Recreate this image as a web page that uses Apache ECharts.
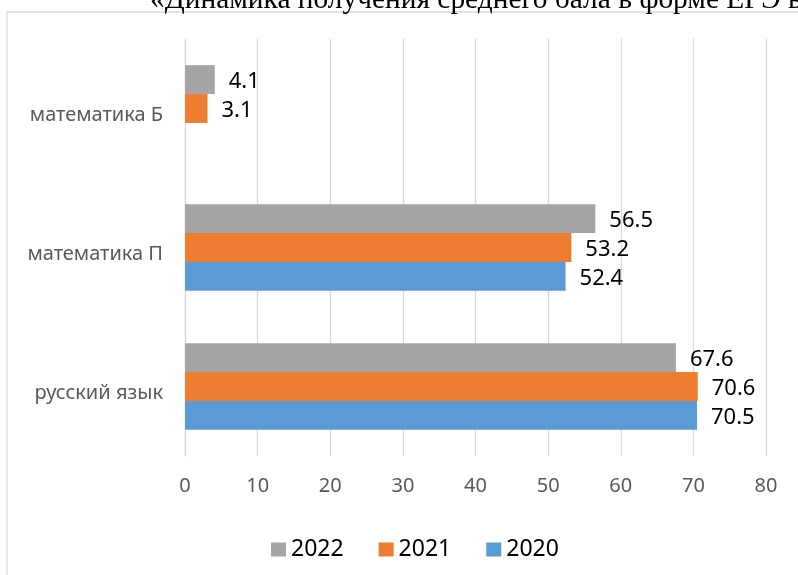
<!DOCTYPE html>
<html>
<head>
<meta charset="utf-8">
<script src="https://cdn.jsdelivr.net/npm/echarts@6/dist/echarts.min.js"></script>
<style>
html,body{margin:0;padding:0;background:#fff;}
#chart{width:798px;height:575px;}
</style>
</head>
<body>
<div id="chart"></div>
<script>
const categories = ['русский язык', 'математика П', 'математика Б'];
const years = ['2022', '2021', '2020'];
const values2020 = [70.5, 52.4, null];
const values2021 = [70.6, 53.2, 3.1];
const values2022 = [67.6, 56.5, 4.1];
const xTicks = { min: 0, max: 80, interval: 10 };
const titleText = '«Динамика получения среднего бала в форме ЕГЭ в';

const colors = { '2020': '#5B9BD5', '2021': '#ED7D31', '2022': '#A5A5A5' };
const seriesValues = { '2020': values2020, '2021': values2021, '2022': values2022 };

const chart = echarts.init(document.getElementById('chart'), null, { renderer: 'canvas' });

const labelStyle = {
  show: true,
  position: 'right',
  distance: 14,
  color: '#000',
  fontFamily: 'Noto Sans',
  fontSize: 22,
  offset: [0, 2]
};

chart.setOption({
  animation: false,
  backgroundColor: '#fff',
  graphic: [
    {
      type: 'rect',
      shape: { x: 7, y: 12, width: 1000, height: 1000 },
      style: { fill: 'none', stroke: '#d9d9d9', lineWidth: 1.3 },
      z: -1
    },
    {
      type: 'text',
      left: 150,
      top: -14,
      style: {
        text: titleText,
        fontFamily: 'Liberation Serif',
        fontSize: 29.4,
        fill: '#000'
      }
    }
  ],
  legend: {
    data: ['2022', '2021', '2020'],
    left: 266,
    top: 533,
    itemWidth: 15,
    itemHeight: 14,
    itemGap: 35,
    icon: 'rect',
    textStyle: { color: '#000', fontFamily: 'Noto Sans', fontSize: 23 }
  },
  grid: { left: 185, right: 32, top: 39, bottom: 119, containLabel: false },
  xAxis: {
    type: 'value',
    min: xTicks.min,
    max: xTicks.max,
    interval: xTicks.interval,
    axisLine: { show: false },
    axisTick: { show: false },
    splitLine: { show: true, lineStyle: { color: '#d9d9d9', width: 1.3 } },
    axisLabel: { color: '#595959', fontFamily: 'Noto Sans', fontSize: 20, margin: 20 }
  },
  yAxis: {
    type: 'category',
    data: categories,
    axisLine: { show: true, lineStyle: { color: '#d9d9d9', width: 1.3 } },
    axisTick: { show: false },
    axisLabel: {
      color: '#595959',
      fontFamily: 'Noto Sans',
      fontSize: 20,
      margin: 22,
      verticalAlign: 'top',
      lineHeight: 14
    }
  },
  series: years.map(y => ({
    name: y,
    type: 'bar',
    data: seriesValues[y],
    barGap: '0%',
    barCategoryGap: '37.6%',
    itemStyle: { color: colors[y] },
    label: labelStyle
  }))
});
</script>
</body>
</html>
